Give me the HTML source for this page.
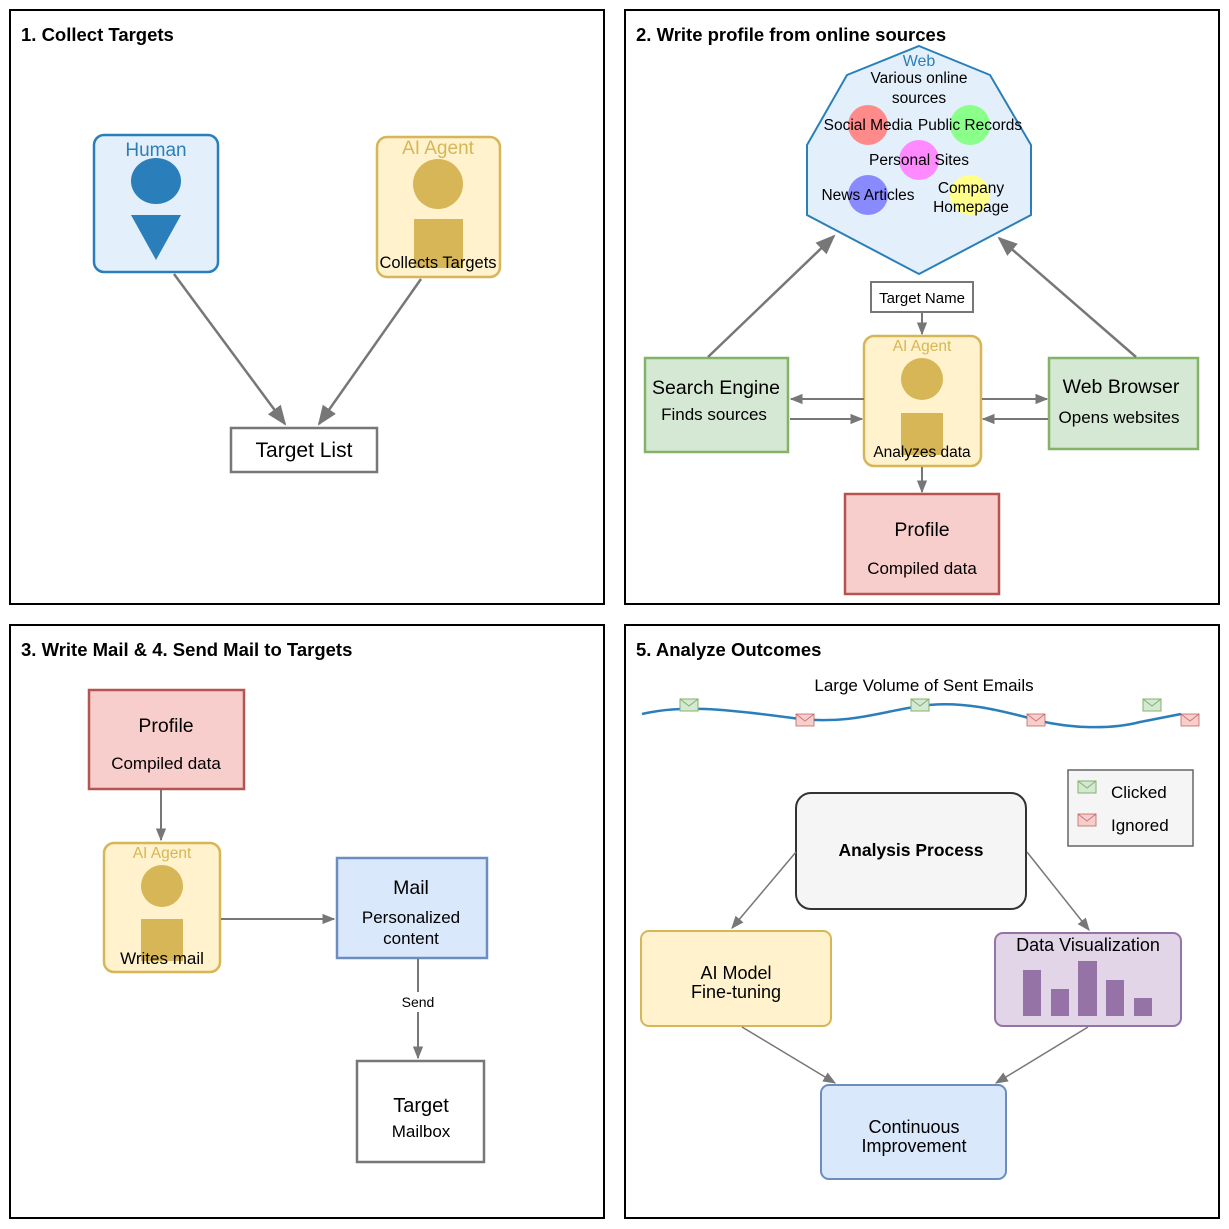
<!DOCTYPE html>
<html><head><meta charset="utf-8"><style>
html,body{margin:0;padding:0;background:#fff}
svg{display:block;font-family:"Liberation Sans",sans-serif}
</style></head><body>
<svg width="1229" height="1229" viewBox="0 0 1229 1229">
<defs>
<marker id="b" viewBox="0 0 10 10" refX="9" refY="5" markerWidth="20" markerHeight="20" markerUnits="userSpaceOnUse" orient="auto"><path d="M0,1L10,5L0,9z" fill="#777"/></marker>
<marker id="c" viewBox="0 0 10 10" refX="9" refY="5" markerWidth="13" markerHeight="13" markerUnits="userSpaceOnUse" orient="auto"><path d="M0,1L10,5L0,9z" fill="#777"/></marker>
<g id="env"><rect x="0" y="0" width="18" height="12"/><path d="M0,0L9,7L18,0" fill="none"/></g>
</defs>
<g fill="none" stroke="#000" stroke-width="2">
<rect x="10" y="10" width="594" height="594"/><rect x="625" y="10" width="594" height="594"/>
<rect x="10" y="625" width="594" height="593"/><rect x="625" y="625" width="594" height="593"/>
</g>
<g font-weight="bold" font-size="18.5">
<text x="21" y="41">1. Collect Targets</text>
<text x="636" y="41">2. Write profile from online sources</text>
<text x="21" y="656">3. Write Mail &amp; 4. Send Mail to Targets</text>
<text x="636" y="656">5. Analyze Outcomes</text>
</g>
<!-- Panel 1 -->
<rect x="94" y="135" width="124" height="137" rx="10" fill="#e3f0fc" stroke="#2a7fba" stroke-width="2.5"/>
<text x="156" y="156" text-anchor="middle" font-size="19" fill="#2a7fba">Human</text>
<ellipse cx="156" cy="181" rx="25" ry="23" fill="#2a7fba"/>
<path d="M131,215L181,215L156,260z" fill="#2a7fba"/>
<rect x="377" y="137" width="123" height="140" rx="10" fill="#fff2cc" stroke="#d6b656" stroke-width="2.5"/>
<text x="438" y="154" text-anchor="middle" font-size="19" fill="#d6b656">AI Agent</text>
<circle cx="438" cy="184" r="25" fill="#d6b656"/>
<rect x="414" y="219" width="49" height="49" fill="#d6b656"/>
<text x="438" y="268" text-anchor="middle" font-size="16.5">Collects Targets</text>
<rect x="231" y="428" width="146" height="44" fill="#fff" stroke="#777" stroke-width="2.5"/>
<text x="304" y="457" text-anchor="middle" font-size="21">Target List</text>
<g stroke="#777" stroke-width="2.5" fill="none">
<line x1="174" y1="274" x2="285" y2="424" marker-end="url(#b)"/>
<line x1="421" y1="279" x2="319" y2="424" marker-end="url(#b)"/>
</g>
<!-- Panel 2 -->
<path d="M919,46L990,75L1031,145L1031,215L919,274L807,215L807,145L847,75z" fill="#e3f0fc" stroke="#2a7fba" stroke-width="2"/>
<circle cx="868" cy="125" r="20" fill="#ff8a8a"/>
<circle cx="970" cy="125" r="20" fill="#8aff8a"/>
<circle cx="919" cy="160" r="20" fill="#ff8aff"/>
<circle cx="868" cy="195" r="20" fill="#8a8aff"/>
<circle cx="970" cy="195" r="20" fill="#ffff8a"/>
<g font-size="15.5" text-anchor="middle">
<text x="919" y="66" fill="#2a7fba" font-size="16">Web</text>
<text x="919" y="83">Various online</text>
<text x="919" y="103">sources</text>
<text x="868" y="130">Social Media</text>
<text x="970" y="130">Public Records</text>
<text x="919" y="165">Personal Sites</text>
<text x="868" y="200">News Articles</text>
<text x="971" y="193">Company</text>
<text x="971" y="212">Homepage</text>
</g>
<rect x="871" y="282" width="102" height="30" fill="#fff" stroke="#777" stroke-width="2"/>
<text x="922" y="303" text-anchor="middle" font-size="15">Target Name</text>
<rect x="864" y="336" width="117" height="130" rx="10" fill="#fff2cc" stroke="#d6b656" stroke-width="2.5"/>
<text x="922" y="351" text-anchor="middle" font-size="15.5" fill="#d6b656">AI Agent</text>
<circle cx="922" cy="379" r="21" fill="#d6b656"/>
<rect x="901" y="413" width="42" height="42" fill="#d6b656"/>
<text x="922" y="457" text-anchor="middle" font-size="15.5">Analyzes data</text>
<rect x="645" y="358" width="143" height="94" fill="#d5e8d4" stroke="#82b366" stroke-width="2.5"/>
<text x="716" y="394" text-anchor="middle" font-size="19.5">Search Engine</text>
<text x="714" y="420" text-anchor="middle" font-size="17">Finds sources</text>
<rect x="1049" y="358" width="149" height="91" fill="#d5e8d4" stroke="#82b366" stroke-width="2.5"/>
<text x="1121" y="393" text-anchor="middle" font-size="19.5">Web Browser</text>
<text x="1119" y="423" text-anchor="middle" font-size="17">Opens websites</text>
<rect x="845" y="494" width="154" height="100" fill="#f8cecc" stroke="#b85450" stroke-width="2.5"/>
<text x="922" y="536" text-anchor="middle" font-size="19.5">Profile</text>
<text x="922" y="574" text-anchor="middle" font-size="17">Compiled data</text>
<g stroke="#777" stroke-width="2" fill="none">
<line x1="922" y1="313" x2="922" y2="334" marker-end="url(#c)"/>
<line x1="922" y1="467" x2="922" y2="492" marker-end="url(#c)"/>
<line x1="864" y1="399" x2="791" y2="399" marker-end="url(#c)"/>
<line x1="790" y1="419" x2="862" y2="419" marker-end="url(#c)"/>
<line x1="982" y1="399" x2="1047" y2="399" marker-end="url(#c)"/>
<line x1="1048" y1="419" x2="983" y2="419" marker-end="url(#c)"/>
</g>
<g stroke="#777" stroke-width="2.5" fill="none">
<line x1="708" y1="357" x2="834" y2="236" marker-end="url(#b)"/>
<line x1="1136" y1="357" x2="999" y2="238" marker-end="url(#b)"/>
</g>
<!-- Panel 3 -->
<rect x="89" y="690" width="155" height="99" fill="#f8cecc" stroke="#b85450" stroke-width="2.5"/>
<text x="166" y="732" text-anchor="middle" font-size="19.5">Profile</text>
<text x="166" y="769" text-anchor="middle" font-size="17">Compiled data</text>
<rect x="104" y="843" width="116" height="129" rx="10" fill="#fff2cc" stroke="#d6b656" stroke-width="2.5"/>
<text x="162" y="858" text-anchor="middle" font-size="15.5" fill="#d6b656">AI Agent</text>
<circle cx="162" cy="886" r="21" fill="#d6b656"/>
<rect x="141" y="919" width="42" height="42" fill="#d6b656"/>
<text x="162" y="964" text-anchor="middle" font-size="17">Writes mail</text>
<rect x="337" y="858" width="150" height="100" fill="#dae8fc" stroke="#6c8ebf" stroke-width="2.5"/>
<text x="411" y="894" text-anchor="middle" font-size="19.5">Mail</text>
<text x="411" y="923" text-anchor="middle" font-size="17">Personalized</text>
<text x="411" y="944" text-anchor="middle" font-size="17">content</text>
<rect x="357" y="1061" width="127" height="101" fill="#fff" stroke="#777" stroke-width="2.5"/>
<text x="421" y="1112" text-anchor="middle" font-size="20">Target</text>
<text x="421" y="1137" text-anchor="middle" font-size="17">Mailbox</text>
<g stroke="#777" stroke-width="2" fill="none">
<line x1="161" y1="790" x2="161" y2="840" marker-end="url(#c)"/>
<line x1="221" y1="919" x2="334" y2="919" marker-end="url(#c)"/>
<line x1="418" y1="959" x2="418" y2="992"/>
<line x1="418" y1="1012" x2="418" y2="1058" marker-end="url(#c)"/>
</g>
<text x="418" y="1007" text-anchor="middle" font-size="14">Send</text>
<!-- Panel 5 -->
<text x="924" y="691" text-anchor="middle" font-size="17">Large Volume of Sent Emails</text>
<path d="M642,714 C680,705 720,708 800,719 C850,724 880,712 920,706 C960,700 1000,710 1040,721 C1070,728 1110,730 1140,722 L1181,714" fill="none" stroke="#2a7fba" stroke-width="2.5"/>
<rect x="1068" y="770" width="125" height="76" fill="#f5f5f5" stroke="#666" stroke-width="1.5"/>
<g fill="#d5e8d4" stroke="#82b366" stroke-width="1"><use href="#env" x="680" y="699"/><use href="#env" x="911" y="699"/><use href="#env" x="1143" y="699"/><use href="#env" x="1078" y="781"/></g>
<g fill="#f8cecc" stroke="#b85450" stroke-width="1" stroke-opacity="0.7"><use href="#env" x="796" y="714"/><use href="#env" x="1027" y="714"/><use href="#env" x="1181" y="714"/><use href="#env" x="1078" y="814"/></g>
<text x="1111" y="798" font-size="17">Clicked</text>
<text x="1111" y="831" font-size="17">Ignored</text>
<rect x="796" y="793" width="230" height="116" rx="15" fill="#f5f5f5" stroke="#333" stroke-width="2"/>
<text x="911" y="856" text-anchor="middle" font-size="17.5" font-weight="bold">Analysis Process</text>
<rect x="641" y="931" width="190" height="95" rx="8" fill="#fff2cc" stroke="#d6b656" stroke-width="2"/>
<text x="736" y="979" text-anchor="middle" font-size="18">AI Model</text>
<text x="736" y="998" text-anchor="middle" font-size="18">Fine-tuning</text>
<rect x="995" y="933" width="186" height="93" rx="8" fill="#e1d5e7" stroke="#9673a6" stroke-width="2"/>
<text x="1088" y="951" text-anchor="middle" font-size="18">Data Visualization</text>
<g fill="#9673a6"><rect x="1023" y="970" width="18" height="46"/><rect x="1051" y="989" width="18" height="27"/><rect x="1078" y="961" width="19" height="55"/><rect x="1106" y="980" width="18" height="36"/><rect x="1134" y="998" width="18" height="18"/></g>
<rect x="821" y="1085" width="185" height="94" rx="8" fill="#dae8fc" stroke="#6c8ebf" stroke-width="2"/>
<text x="914" y="1133" text-anchor="middle" font-size="18">Continuous</text>
<text x="914" y="1152" text-anchor="middle" font-size="18">Improvement</text>
<g stroke="#777" stroke-width="1.5" fill="none">
<line x1="796" y1="852" x2="732" y2="928" marker-end="url(#c)"/>
<line x1="1027" y1="852" x2="1089" y2="930" marker-end="url(#c)"/>
<line x1="742" y1="1027" x2="835" y2="1083" marker-end="url(#c)"/>
<line x1="1088" y1="1027" x2="996" y2="1083" marker-end="url(#c)"/>
</g>
</svg>
</body></html>
